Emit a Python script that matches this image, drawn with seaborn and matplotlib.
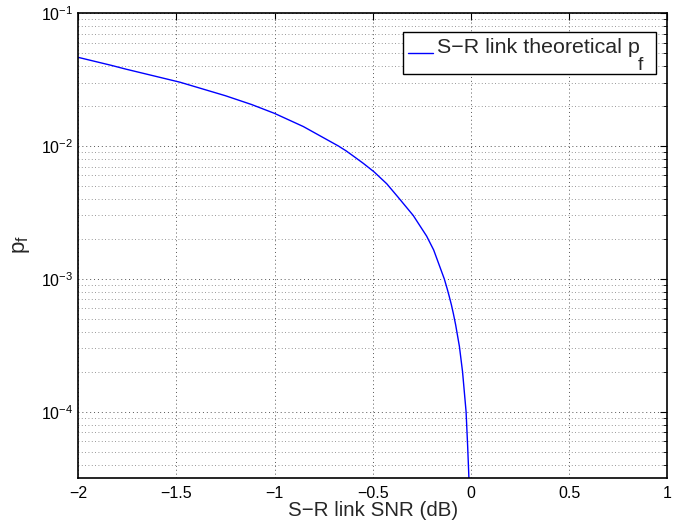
import matplotlib
matplotlib.use("Agg")
import matplotlib.pyplot as plt
import matplotlib.ticker as mticker
from matplotlib.patches import Rectangle
from matplotlib.lines import Line2D
import numpy as np
import pandas as pd
import seaborn as sns

# S-R link SNR (dB) and the theoretical failure probability p_f
snr_db = [-2.0, -1.829, -1.76, -1.481, -1.25, -1.116, -1.0, -0.853, -0.675,
          -0.636, -0.594, -0.548, -0.494, -0.429, -0.37, -0.294, -0.226,
          -0.19, -0.136, -0.12, -0.112, -0.10, -0.09, -0.078, -0.059,
          -0.043, -0.025, -0.017, -0.01, -0.005]
p_f = [0.0465, 0.0404, 0.0380, 0.0302, 0.0239, 0.0205, 0.0176, 0.0140, 0.0100,
       0.0092, 0.0083, 0.0074, 0.0064, 0.0052, 0.0041, 0.0030, 0.0021,
       0.00165, 0.0010, 0.00083, 0.00075, 0.00064, 0.00055, 0.00045, 0.00031,
       0.00020, 0.00010, 0.000055, 0.000030, 0.000012]

legend_text = "S\u2212R link theoretical p"
legend_sub = "f"

df = pd.DataFrame({"snr": snr_db, "pf": p_f})

sns.set_style("white")
plt.rcParams["font.family"] = ["Liberation Sans", "DejaVu Sans"]
plt.rcParams["mathtext.fontset"] = "custom"
plt.rcParams["mathtext.rm"] = "Liberation Sans"
plt.rcParams["mathtext.it"] = "Liberation Sans"
plt.rcParams["axes.unicode_minus"] = True

W, H = 694, 525
fig = plt.figure(figsize=(W / 100, H / 100), dpi=100)
ax = fig.add_axes([0.1124, 0.090, 0.8494, 0.885])

line_color = "#0000ff"
sns.lineplot(data=df, x="snr", y="pf", ax=ax, color=line_color, linewidth=1.0,
             sort=False, legend=False)

ax.set_yscale("log")
ax.set_xlim(-2, 1)
ax.set_ylim(10 ** -4.497, 1e-1)
ax.set_xticks([-2, -1.5, -1, -0.5, 0, 0.5, 1])
ax.xaxis.set_major_formatter(mticker.FuncFormatter(
    lambda v, pos: ("%g" % v).replace("-", "\u2212")))
ax.yaxis.set_major_locator(mticker.LogLocator(base=10, numticks=10))
ax.yaxis.set_minor_locator(mticker.LogLocator(base=10, subs=np.arange(2, 10), numticks=20))
ax.yaxis.set_minor_formatter(mticker.NullFormatter())

ax.tick_params(axis="both", which="both", direction="in", top=True, right=True,
               labelsize=11.5, colors="black")
ax.tick_params(axis="both", which="major", length=5, width=0.8)
ax.tick_params(axis="y", which="minor", length=3, width=0.6)
ax.tick_params(axis="x", pad=6)

ax.grid(True, which="major", axis="both", linestyle=(0, (1, 3)), color="#555555", linewidth=0.7)
ax.grid(True, which="minor", axis="y", linestyle=(0, (1, 3)), color="#777777", linewidth=0.6)
ax.set_axisbelow(True)

for s in ax.spines.values():
    s.set_color("black")
    s.set_linewidth(1.2)

ax.set_xlabel("S\u2212R link SNR (dB)", fontsize=14.8, labelpad=0)
ax.set_ylabel("")
fig.text(22 / W, 1 - 245 / H, r"p$_\mathrm{f}$", rotation=90, ha="center",
         va="center", fontsize=16)


def fx(x):
    return x / W


def fy(y):
    return 1 - y / H


# legend box in figure coordinates
fig.add_artist(Rectangle((fx(403), fy(74)), fx(656) - fx(403), fy(32) - fy(74),
                         transform=fig.transFigure, facecolor="white",
                         edgecolor="black", linewidth=1.0, zorder=5))
fig.add_artist(Line2D([fx(408), fx(433)], [fy(53), fy(53)], transform=fig.transFigure,
                      color=line_color, linewidth=1.0, zorder=6))
fig.text(fx(437), fy(53), legend_text, ha="left", va="baseline", fontsize=15.4, zorder=6)
fig.text(fx(638), fy(57), legend_sub, ha="left", va="top", fontsize=14, zorder=6)

fig.savefig("out.png", dpi=100, facecolor="white")
